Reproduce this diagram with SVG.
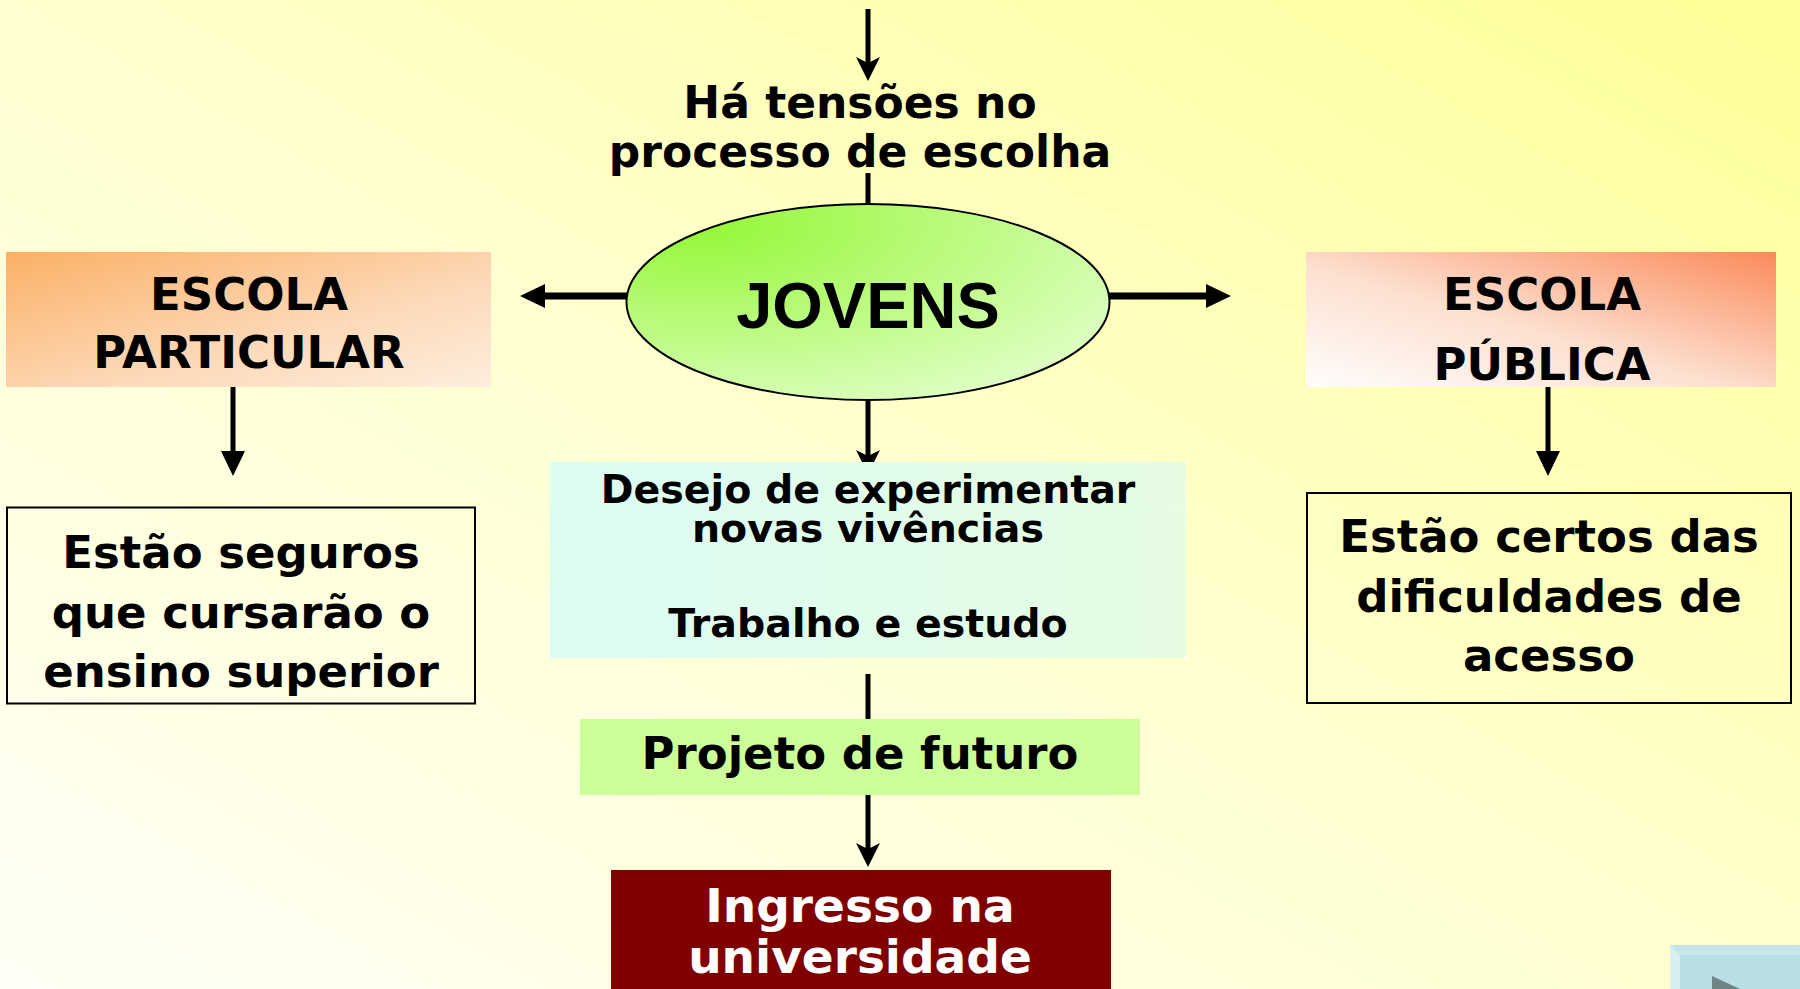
<svg xmlns="http://www.w3.org/2000/svg" width="1800" height="989" viewBox="0 0 1800 989">
<defs>
<linearGradient id="bg" x1="0" y1="1" x2="1" y2="0">
<stop offset="0" stop-color="#fffff6"/>
<stop offset="0.5" stop-color="#ffffcf"/>
<stop offset="1" stop-color="#ffff98"/>
</linearGradient>
<radialGradient id="gEll" cx="0.15" cy="0.1" r="1.1">
<stop offset="0" stop-color="#94f736"/>
<stop offset="1" stop-color="#e4ffcc"/>
</radialGradient>
<linearGradient id="gLeft" x1="0" y1="0" x2="1" y2="1">
<stop offset="0" stop-color="#fbb066"/>
<stop offset="0.6" stop-color="#fdd9b8"/>
<stop offset="1" stop-color="#fdeedd"/>
</linearGradient>
<linearGradient id="gRight" x1="0" y1="1" x2="1" y2="0">
<stop offset="0" stop-color="#fffdfc"/>
<stop offset="0.45" stop-color="#fde0d0"/>
<stop offset="1" stop-color="#fb8a5a"/>
</linearGradient>
<linearGradient id="gMid" x1="0" y1="0" x2="1" y2="0">
<stop offset="0" stop-color="#dcfcf4"/>
<stop offset="1" stop-color="#e6fde2"/>
</linearGradient>
<marker id="tri" markerUnits="userSpaceOnUse" markerWidth="26" markerHeight="26" viewBox="0 0 26 26" refX="4" refY="13" orient="auto">
<path d="M0,1 L25,13 L0,25 z" fill="#000"/>
</marker>
<marker id="stealth" markerUnits="userSpaceOnUse" markerWidth="26" markerHeight="26" viewBox="0 0 26 26" refX="6" refY="13" orient="auto">
<path d="M0,1 L24,13 L0,25 L6,13 z" fill="#000"/>
</marker>
<style>
.t{font-family:"DejaVu Sans","Verdana",sans-serif;font-weight:bold;fill:#000;text-anchor:middle}
.line{stroke:#000;fill:none}
</style>
</defs>
<rect x="0" y="0" width="1800" height="989" fill="url(#bg)"/>

<g id="connectors">
<line class="line" x1="868" y1="9" x2="868" y2="63" stroke-width="5" marker-end="url(#stealth)"/>
<line class="line" x1="868" y1="173" x2="868" y2="205" stroke-width="5"/>
<line class="line" x1="627" y1="296" x2="541" y2="296" stroke-width="7" marker-end="url(#tri)"/>
<line class="line" x1="1109" y1="296" x2="1210" y2="296" stroke-width="7" marker-end="url(#tri)"/>
<line class="line" x1="233" y1="387" x2="233" y2="455" stroke-width="5" marker-end="url(#tri)"/>
<line class="line" x1="1548" y1="387" x2="1548" y2="455" stroke-width="5" marker-end="url(#tri)"/>
<line class="line" x1="868" y1="400" x2="868" y2="456" stroke-width="5" marker-end="url(#stealth)"/>
<line class="line" x1="868" y1="674" x2="868" y2="720" stroke-width="5"/>
<line class="line" x1="868" y1="795" x2="868" y2="849" stroke-width="5" marker-end="url(#stealth)"/>
</g>

<g id="tensoes">
<text class="t" x="860" y="118" font-size="44">Há tensões no</text>
<text class="t" x="860" y="167" font-size="44">processo de escolha</text>
</g>

<g id="jovens">
<ellipse cx="868" cy="302" rx="241.5" ry="98" fill="url(#gEll)" stroke="#000" stroke-width="2"/>
<text x="868" y="328" font-family="Liberation Sans, Arial, sans-serif" font-weight="bold" font-size="65" text-anchor="middle" fill="#000">JOVENS</text>
</g>

<g id="escola-particular">
<rect x="6" y="252" width="485" height="135" fill="url(#gLeft)"/>
<text class="t" x="249" y="310" font-size="45">ESCOLA</text>
<text class="t" x="249" y="368" font-size="45">PARTICULAR</text>
</g>

<g id="escola-publica">
<rect x="1306" y="252" width="470" height="135" fill="url(#gRight)"/>
<text class="t" x="1542" y="310" font-size="45">ESCOLA</text>
<text class="t" x="1542" y="380" font-size="45">PÚBLICA</text>
</g>

<g id="seguros">
<rect x="7" y="507.5" width="468" height="196" fill="none" stroke="#000" stroke-width="2"/>
<text class="t" x="241" y="568" font-size="45">Estão seguros</text>
<text class="t" x="241" y="628" font-size="45">que cursarão o</text>
<text class="t" x="241" y="687" font-size="45">ensino superior</text>
</g>

<g id="certos">
<rect x="1307" y="493" width="484" height="210" fill="none" stroke="#000" stroke-width="2"/>
<text class="t" x="1549" y="552" font-size="45">Estão certos das</text>
<text class="t" x="1549" y="612" font-size="45">dificuldades de</text>
<text class="t" x="1549" y="671" font-size="45">acesso</text>
</g>

<g id="desejo">
<rect x="550" y="462" width="636" height="196" fill="url(#gMid)"/>
<text class="t" x="868" y="503" font-size="39.5">Desejo de experimentar</text>
<text class="t" x="868" y="542" font-size="39.5">novas vivências</text>
<text class="t" x="868" y="637" font-size="39.5">Trabalho e estudo</text>
</g>

<g id="projeto">
<rect x="580" y="719" width="560" height="76" fill="#ccff99"/>
<text class="t" x="860" y="769" font-size="45">Projeto de futuro</text>
</g>

<g id="ingresso">
<rect x="611" y="870" width="500" height="130" fill="#800000"/>
<text class="t" x="860" y="922" font-size="47" style="fill:#fff">Ingresso na</text>
<text class="t" x="860" y="973" font-size="47" style="fill:#fff">universidade</text>
</g>

<g id="nav-button">
<rect x="1670" y="945" width="130" height="44" fill="#c8e6ea"/>
<polygon points="1670,945 1680,955 1680,989 1670,989" fill="#d8eef0"/>
<rect x="1680" y="955" width="120" height="34" fill="#b8dfe3"/>
<polygon points="1712,976 1740,989 1712,989" fill="#6e8487"/>
</g>
</svg>
